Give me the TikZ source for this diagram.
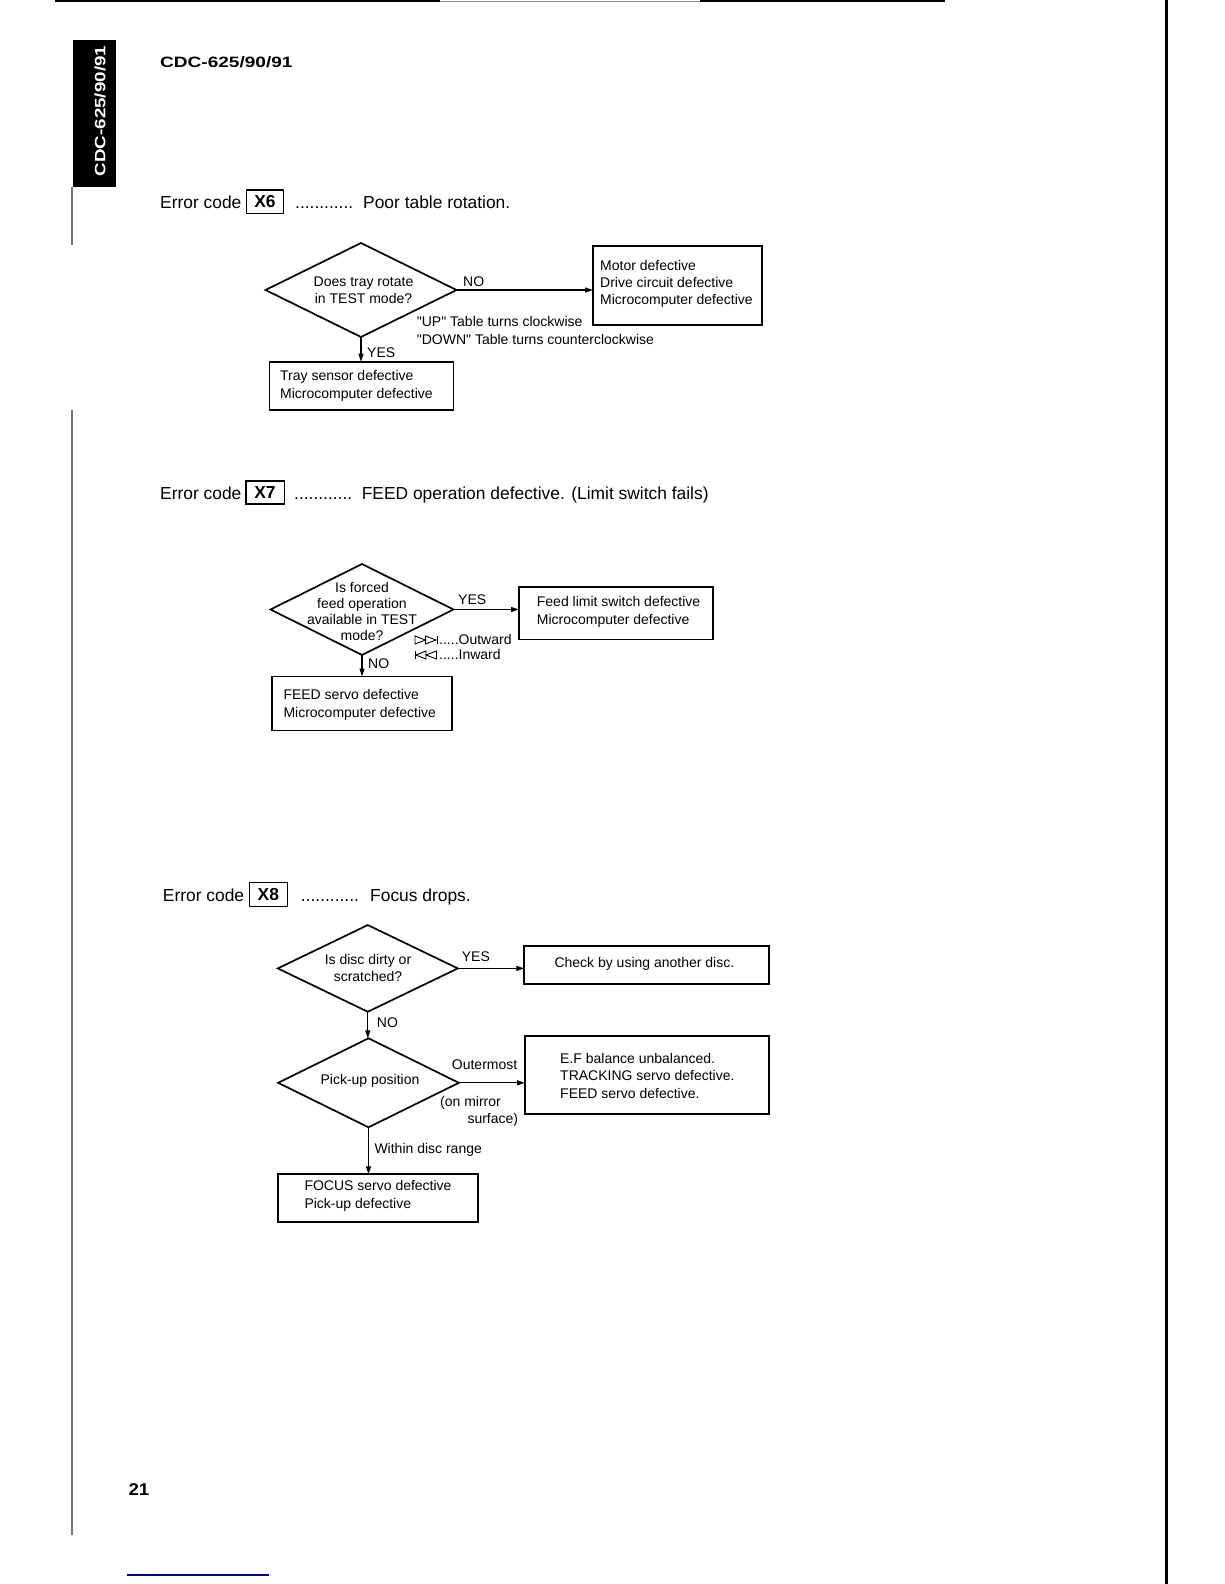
\documentclass[tikz,border=0pt]{standalone}
\usepackage{graphicx}
\usepackage{fontspec}
\setmainfont{Liberation Sans}[Ligatures=TeXOff]
\usetikzlibrary{arrows.meta,shapes.geometric,calc}
\newcommand\bodyfont{\fontsize{14}{17.3}\selectfont}
\newcommand\headfont{\fontsize{17.4}{20}\selectfont}
\begin{document}
\begin{tikzpicture}[x=1pt,y=-1pt,
  dia/.style={draw, diamond, line width=1.7, inner sep=0pt, outer sep=0pt},
  box/.style={draw, rectangle, line width=1.9, inner sep=0pt, outer sep=0pt},
  txt/.style={font=\bodyfont, inner sep=0pt, align=left, anchor=west},
  ctxt/.style={font=\bodyfont, inner sep=0pt, align=center},
  lbl/.style={font=\bodyfont, inner sep=0pt, anchor=base west},
  arr/.style={-{Triangle[length=8pt,width=5pt]}, line width=1.1},
  head/.style={font=\headfont, inner sep=0pt, anchor=base west},
  xbox/.style={draw, line width=1.4, inner sep=0pt, font=\headfont\bfseries},
  sym/.style={line width=0.9, line join=miter}
]
\useasboundingbox (0,0) rectangle (1224,1584);

% page decorations
\draw[line width=1.5] (55,1.2) -- (440,1.2);
\draw[line width=1, black!45] (440,1.2) -- (700,1.2);
\draw[line width=1.5] (700,1.2) -- (945,1.2);
\draw[line width=3] (1166,0) -- (1166,1584);
\draw[line width=1.3, black!55] (72,187) -- (72,245);
\draw[line width=1.3, black!55] (72,410) -- (72,1535);
\draw[line width=1.5, blue!60!black] (126.7,1575) -- (269.3,1575);

% side tab and title
\fill (72.7,40) rectangle (116,187);
\node[rotate=90, text=white, inner sep=0pt] (tab) at (100,111)
  {\scalebox{1.25}[1]{\fontsize{15}{15}\selectfont\bfseries CDC-625/90/91}};
\node[anchor=base west, inner sep=0pt] (title) at (160,67.3)
  {\scalebox{1.27}[1]{\fontsize{15}{15}\selectfont\bfseries CDC-625/90/91}};
\node[anchor=base west, inner sep=0pt] (pg) at (128.3,1495)
  {\scalebox{1.1}[1]{\fontsize{17}{17}\selectfont\bfseries 21}};

% ---------- Error code X6 ----------
\node[head] (h1a) at (160,208.3) {Error code};
\node[xbox, minimum width=37.4, minimum height=23.3] (h1x) at (265,201.7) {X6};
\node[head] (h1b) at (295,208.3) {............};
\node[head] (h1c) at (363,208.3) {Poor table rotation.};

\node[dia, minimum width=191, minimum height=94] (d1) at (361,290) {};
\node[ctxt] (d1t) at (363.5,290.3) {Does tray rotate\\in TEST mode?};
\node[box, minimum width=169, minimum height=79] (b1) at (677.5,285.5) {};
\node[txt] (b1t) at (600,284) {Motor defective\\Drive circuit defective\\Microcomputer defective};
\node[box, minimum width=184, minimum height=48.3] (b2) at (361.5,385.85) {};
\node[txt] (b2t) at (280,385.8) {Tray sensor defective\\Microcomputer defective};

\draw[arr] (d1.east) -- (d1.east -| b1.west);
\draw[arr] (d1.south) -- (d1.south |- b2.north);
\node[lbl] (l1) at (463,286) {NO};
\node[lbl] (l2) at (367,357.4) {YES};
\node[txt] (l3) at (416.7,330.4) {"UP" Table turns clockwise\\"DOWN" Table turns counterclockwise};

% ---------- Error code X7 ----------
\node[head] (h2a) at (160,499) {Error code};
\node[xbox, minimum width=38.4, minimum height=23] (h2x) at (265,492.5) {X7};
\node[head] (h2b) at (294,499) {............};
\node[head] (h2c) at (361.6,499) {FEED operation defective. (Limit switch fails)};

\node[dia, minimum width=183, minimum height=91] (d2) at (362,609.5) {};
\node[ctxt, font=\fontsize{14}{16}\selectfont] (d2t) at (362,611) {Is forced\\feed operation\\available in TEST\\mode?};
\node[box, minimum width=194, minimum height=52.5] (b3) at (616,613.2) {};
\node[txt] (b3t) at (536.7,612) {Feed limit switch defective\\Microcomputer defective};
\node[box, minimum width=180.5, minimum height=54] (b4) at (362,703.5) {};
\node[txt] (b4t) at (283.3,705) {FEED servo defective\\Microcomputer defective};

\draw[arr] (d2.east) -- (d2.east -| b3.west);
\draw[arr] (d2.south) -- (d2.south |- b4.north);
\node[lbl] (l4) at (458,604.5) {YES};
\node[lbl] (l5) at (368,668.5) {NO};

% outward / inward symbols
\draw[sym] (415,636) -- (425.5,640) -- (415,644) -- cycle;
\draw[sym] (425.5,636) -- (436,640) -- (425.5,644) -- cycle;
\draw[sym] (437.2,636) -- (437.2,644);
\draw[sym] (415,651) -- (415,659);
\draw[sym] (426,651) -- (415.8,655) -- (426,659) -- cycle;
\draw[sym] (436.5,651) -- (426,655) -- (436.5,659) -- cycle;
\node[lbl] (l6) at (439,644.5) {.....Outward};
\node[lbl] (l7) at (439,659.5) {.....Inward};

% ---------- Error code X8 ----------
\node[head] (h3a) at (162.7,901.3) {Error code};
\node[xbox, minimum width=38, minimum height=24] (h3x) at (268.3,894.3) {X8};
\node[head] (h3b) at (300.7,901.3) {............};
\node[head] (h3c) at (370,901.3) {Focus drops.};

\node[dia, minimum width=180, minimum height=86.7] (d3) at (367.8,968.4) {};
\node[ctxt, font=\fontsize{14}{17}\selectfont] (d3t) at (368,967.5) {Is disc dirty or\\scratched?};
\node[box, minimum width=245, minimum height=38] (b5) at (646.8,965) {};
\node[txt] (b5t) at (554.3,964) {Check by using another disc.};

\node[dia, minimum width=180.7, minimum height=89] (d4) at (368.5,1082.8) {};
\node[ctxt] (d4t) at (370,1081) {Pick-up position};
\node[box, minimum width=244.3, minimum height=78] (b6) at (647.15,1075) {};
\node[txt, font=\fontsize{14}{17.5}\selectfont] (b6t) at (560,1075.8) {E.F balance unbalanced.\\TRACKING servo defective.\\FEED servo defective.};
\node[box, minimum width=200, minimum height=47.4] (b7) at (378.3,1198) {};
\node[txt, font=\fontsize{14}{18.3}\selectfont] (b7t) at (304.3,1195.9) {FOCUS servo defective\\Pick-up defective};

\draw[arr] (d3.east) -- (d3.east -| b5.west);
\draw[arr] (d3.south) -- (d3.south |- d4.north);
\draw[arr] (d4.east) -- (d4.east -| b6.west);
\draw[arr] (d4.south) -- (d4.south |- b7.north);
\node[lbl] (l8) at (461.7,961.2) {YES};
\node[lbl] (l9) at (376.7,1027.4) {NO};
\node[lbl] (l10) at (451.7,1069.5) {Outermost};
\node[txt] (l11) at (440,1111.4) {(on mirror\\\hspace*{27.3pt}surface)};
\node[lbl] (l12) at (374.3,1153.8) {Within disc range};
\end{tikzpicture}
\end{document}
